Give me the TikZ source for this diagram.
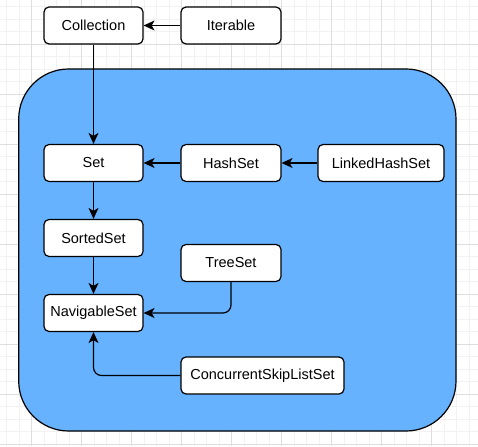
\documentclass[tikz,border=0pt]{standalone}
\usepackage{fontspec}
\setmainfont{Liberation Sans}
\usetikzlibrary{arrows.meta}
\definecolor{blueback}{HTML}{66B2FF}
\definecolor{gridminor}{HTML}{F2F2F2}
\definecolor{gridmajor}{HTML}{DEDEDE}
\begin{document}
\begin{tikzpicture}[x=1pt,y=-1pt,
  box/.style={draw=black, fill=white, rounded corners=5pt, line width=1.2pt,
    minimum height=37pt, inner sep=0pt, font=\fontsize{14.5}{16}\selectfont},
  conn/.style={draw=black, line width=1.2pt, rounded corners=8pt,
    -{Stealth[length=11pt,width=10pt,inset=3pt]}},
  minorline/.style={draw=gridminor, line width=0.9pt},
  majorline/.style={draw=gridmajor, line width=0.9pt},
  group/.style={draw=black, fill=blueback, line width=1.2pt, rounded corners=50pt, inner sep=0pt}]
\useasboundingbox (0,0) rectangle (478,446);
\fill[white] (0,0) rectangle (478,446);
% grid
\foreach \i in {0,...,37} \draw[minorline] (6.7+12.5*\i,0) -- (6.7+12.5*\i,446);
\foreach \j in {0,...,35} \draw[minorline] (0,6.8+12.5*\j) -- (478,6.8+12.5*\j);
\foreach \i in {0,...,8} \draw[majorline] (31.7+50*\i,0) -- (31.7+50*\i,446);
\foreach \j in {0,...,8} \draw[majorline] (0,44.3+50*\j) -- (478,44.3+50*\j);
% container
\node[group, minimum width=437.3pt, minimum height=362pt] (grp) at (237.35,250) {};
% nodes
\node[box, minimum width=99pt]  (coll) at (93.5,25.5) {Collection};
\node[box, minimum width=100pt] (iter) at (231,25.5) {Iterable};
\node[box, minimum width=99pt]  (set) at (93.5,163) {Set};
\node[box, minimum width=100pt] (hash) at (231,163) {HashSet};
\node[box, minimum width=126pt] (lhash) at (381,163) {LinkedHashSet};
\node[box, minimum width=99pt]  (sorted) at (93.5,238) {SortedSet};
\node[box, minimum width=100pt] (tree) at (231,263) {TreeSet};
\node[box, minimum width=99pt]  (nav) at (93.5,313) {NavigableSet};
\node[box, minimum width=163pt] (conc) at (262.5,375.5) {ConcurrentSkipListSet};
% connectors
\draw[conn] (iter) -- (coll);
\draw[conn] (coll) -- (set);
\draw[conn] (lhash) -- (hash);
\draw[conn] (hash) -- (set);
\draw[conn] (set) -- (sorted);
\draw[conn] (sorted) -- (nav);
\draw[conn] (tree.south) |- (nav.east);
\draw[conn] (conc.west) -| (nav.south);
\end{tikzpicture}
\end{document}
